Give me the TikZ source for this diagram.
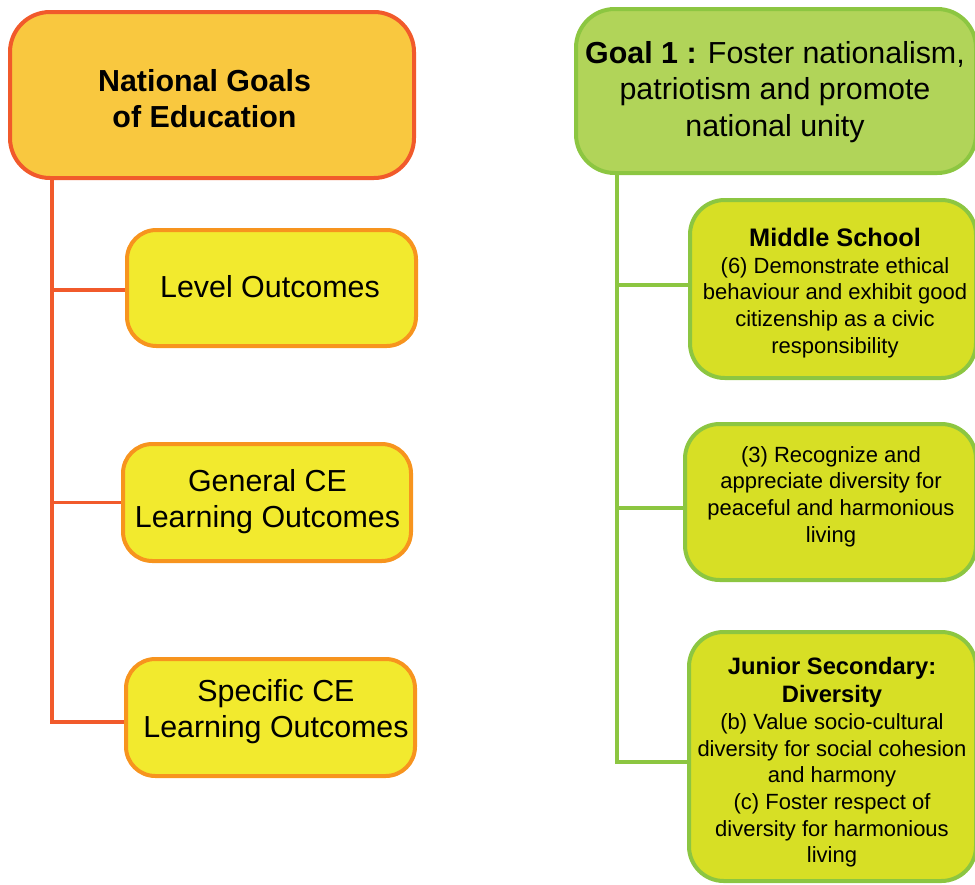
\documentclass[tikz,border=0pt]{standalone}
\usepackage{fontspec}
\setmainfont{Liberation Sans}
\usetikzlibrary{fit,backgrounds}
\definecolor{ngfill}{HTML}{F9C83F}
\definecolor{ngdraw}{HTML}{F15A2B}
\definecolor{yfill}{HTML}{F2EA2E}
\definecolor{ydraw}{HTML}{F7941E}
\definecolor{gfill}{HTML}{B1D459}
\definecolor{gdraw}{HTML}{8CC641}
\definecolor{gyfill}{HTML}{D7DF25}
\begin{document}
\begin{tikzpicture}[x=0.75pt,y=-0.75pt,
  boxbase/.style={inner sep=0pt, outer sep=0pt, line width=3pt},
  ngbox/.style={boxbase, fill=ngfill, draw=ngdraw, rounded corners=30pt},
  ybox/.style={boxbase, fill=yfill, draw=ydraw, rounded corners=22pt},
  gbox/.style={boxbase, fill=gfill, draw=gdraw, rounded corners=29pt},
  gybox/.style={boxbase, fill=gyfill, draw=gdraw, rounded corners=26pt},
  bigtxt/.style={inner sep=0pt, align=center, font=\fontsize{22.8}{27.5}\selectfont},
  smtxt/.style={inner sep=0pt, align=center, font=\fontsize{16.5}{20}\selectfont},
  lconn/.style={draw=ngdraw, line width=2.6pt},
  rconn/.style={draw=gdraw, line width=2.6pt},
]
\useasboundingbox (0,0) rectangle (975,885);
\clip (0,0) rectangle (975,885);

% left column
\node[ngbox, fit={(10,12) (414,178)}] (ng) {};
\node[bigtxt, font=\fontsize{22.8}{27.5}\selectfont\bfseries] (ngt) at (204.5,98.5) {National Goals\\of Education};
\node[ybox, fit={(127,230) (416,346)}] (lvl) {};
\node[bigtxt] (lvlt) at (270,287) {Level Outcomes};
\node[ybox, fit={(123,444) (411,561)}] (gen) {};
\node[bigtxt] (gent) at (267.5,501.5) {General CE\\Learning Outcomes};
\node[ybox, fit={(126,659) (415,776)}] (spec) {};
\node[bigtxt] (spect) at (276,711.5) {Specific CE\\Learning Outcomes};
\coordinate (trunkL) at (52,0);

% right column
\node[gbox, fit={(576,9) (976,173)}] (goal) {};
\node[bigtxt] (goalt) at (775,92) {\textbf{Goal 1 :} Foster nationalism,\\patriotism and promote\\national unity};
\node[gybox, fit={(690,200) (976,378)}] (mid) {};
\node[smtxt] (midt) at (835,293) {{\fontsize{19}{20}\selectfont\bfseries Middle School}\\(6) Demonstrate ethical\\behaviour and exhibit good\\citizenship as a civic\\responsibility};
\node[gybox, fit={(685,424) (976,580)}] (rec) {};
\node[smtxt] (rect) at (831,496.5) {(3) Recognize and\\appreciate diversity for\\peaceful and harmonious\\living};
\node[gybox, fit={(689,632) (976,881)}] (jun) {};
\node[smtxt] (junt) at (832,762.5) {{\fontsize{17.8}{20}\selectfont\bfseries Junior Secondary:}\\[1pt]{\fontsize{17.8}{20}\selectfont\bfseries Diversity}\\(b) Value socio-cultural\\diversity for social cohesion\\and harmony\\(c) Foster respect of\\diversity for harmonious\\living};
\coordinate (trunkR) at (617,0);

\begin{scope}[on background layer]
  \draw[lconn] (ng.south -| trunkL) |- ([yshift=-3.4pt]spec.west);
  \draw[lconn] ([yshift=-1.5pt]lvl.west) -- ([yshift=-1.5pt]lvl.west -| trunkL);
  \draw[lconn] (gen.west) -- (gen.west -| trunkL);
  \draw[rconn] (goal.south -| trunkR) |- ([yshift=-4pt]jun.west);
  \draw[rconn] ([yshift=3pt]mid.west) -- ([yshift=3pt]mid.west -| trunkR);
  \draw[rconn] ([yshift=-4.5pt]rec.west) -- ([yshift=-4.5pt]rec.west -| trunkR);
\end{scope}
\end{tikzpicture}
\end{document}
